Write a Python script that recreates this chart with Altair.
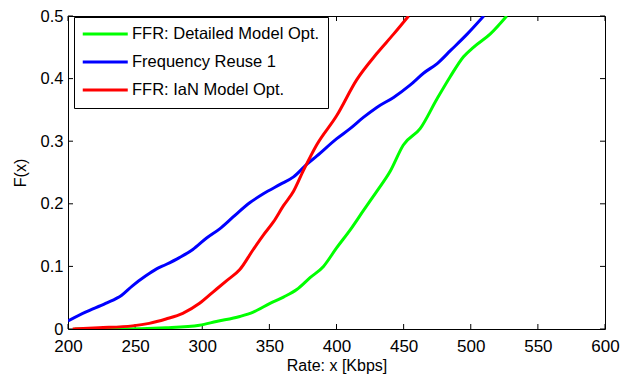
import altair as alt
import pandas as pd

# ---- data ----
blue_x = [200, 213, 228, 240, 248, 258, 266, 273, 283, 293, 303, 313, 323, 335.6, 345.5, 358, 368,
          377.8, 385.2, 400.2, 410.1, 420, 430, 442.5, 455, 465, 475, 485, 497.3, 509.7]
blue_y = [0.013, 0.027, 0.041, 0.054, 0.069, 0.085, 0.096, 0.103, 0.114, 0.127, 0.145, 0.160, 0.179,
          0.202, 0.216, 0.231, 0.243, 0.263, 0.276, 0.304, 0.320, 0.338, 0.354, 0.370, 0.390, 0.409,
          0.424, 0.445, 0.471, 0.5]

red_x = [203.5, 223, 248, 260.5, 273, 285.5, 298, 308, 318, 328, 338, 345.5, 353, 360.5, 368, 375.3,
         385.2, 400.2, 415, 430, 442.5, 453.7]
red_y = [0, 0.002, 0.005, 0.009, 0.016, 0.025, 0.041, 0.059, 0.077, 0.095, 0.127, 0.150, 0.171, 0.197,
         0.220, 0.253, 0.294, 0.341, 0.398, 0.44, 0.471, 0.5]

green_x = [205, 236, 273, 298, 310.5, 328, 338, 350.5, 360.5, 370.4, 380.3, 390.3, 400.2, 410.1, 420,
           430, 440, 449.8, 462.3, 474.7, 484.7, 494.6, 502, 514.4, 526.8]
green_y = [0, 0, 0.002, 0.006, 0.012, 0.020, 0.027, 0.041, 0.051, 0.063, 0.082, 0.10, 0.13, 0.158, 0.189,
           0.22, 0.252, 0.294, 0.32, 0.367, 0.403, 0.435, 0.45, 0.471, 0.5]

series_names = ["FFR: Detailed Model Opt.", "Frequency Reuse 1", "FFR: IaN Model Opt."]
series_colors = ["#00ff00", "#0000ff", "#ff0000"]

x_ticks = [200, 250, 300, 350, 400, 450, 500, 550, 600]
y_ticks = [0, 0.1, 0.2, 0.3, 0.4, 0.5]

rows = []
for name, xs, ys in [(series_names[0], green_x, green_y),
                     (series_names[1], blue_x, blue_y),
                     (series_names[2], red_x, red_y)]:
    for i, (a, b) in enumerate(zip(xs, ys)):
        rows.append({"series": name, "x": a, "y": b, "order": i})
df = pd.DataFrame(rows)
df_xt = pd.DataFrame({"v": x_ticks})
df_yt = pd.DataFrame({"v": y_ticks})

W, H = 537, 313
FONT = "Liberation Sans"
LEG_FS = 16.5

xscale = alt.Scale(domain=[200, 600], nice=False, zero=False)
yscale = alt.Scale(domain=[0, 0.5], nice=False)

lines = alt.Chart(df).mark_line(strokeWidth=3, clip=True, interpolate="monotone").encode(
    x=alt.X("x:Q", scale=xscale,
            axis=alt.Axis(values=x_ticks, title="Rate: x [Kbps]", format="d", labelFlush=False)),
    y=alt.Y("y:Q", scale=yscale,
            axis=alt.Axis(values=y_ticks, title="F(x)", format=".1~f", labelFlush=False)),
    color=alt.Color("series:N",
                    scale=alt.Scale(domain=series_names, range=series_colors),
                    sort=series_names,
                    legend=alt.Legend(orient="none", legendX=6, legendY=1, title=None,
                                      symbolType="M-5,0L5,0", symbolSize=81,
                                      symbolStrokeWidth=3, symbolOffset=14.25,
                                      symbolFillColor="transparent",
                                      labelFontSize=LEG_FS, labelFont=FONT,
                                      labelColor="black", padding=8.75, rowPadding=11,
                                      labelOffset=18.5, strokeColor="black", fillColor="white",
                                      cornerRadius=0, labelLimit=400)),
    order="order:Q",
)

tick_len = 5
xt_bot = alt.Chart(df_xt).mark_rule(color="black", strokeWidth=1).encode(
    x=alt.X("v:Q", scale=xscale), y=alt.value(H), y2=alt.value(H - tick_len))
xt_top = alt.Chart(df_xt).mark_rule(color="black", strokeWidth=1).encode(
    x=alt.X("v:Q", scale=xscale), y=alt.value(0), y2=alt.value(tick_len))
yt_left = alt.Chart(df_yt).mark_rule(color="black", strokeWidth=1).encode(
    y=alt.Y("v:Q", scale=yscale), x=alt.value(0), x2=alt.value(tick_len))
yt_right = alt.Chart(df_yt).mark_rule(color="black", strokeWidth=1).encode(
    y=alt.Y("v:Q", scale=yscale), x=alt.value(W), x2=alt.value(W - tick_len))

chart = alt.layer(xt_bot, xt_top, yt_left, yt_right, lines).properties(
    width=W, height=H,
    autosize=alt.AutoSizeParams(type="none"),
    padding={"left": 60, "top": 8, "right": 15, "bottom": 45},
    background="white",
).configure_view(
    stroke="black", strokeWidth=1
).configure_axis(
    grid=False, ticks=False, tickSize=0, domain=False,
    labelFont=FONT, labelFontSize=17, labelColor="black",
    titleFont=FONT, titleFontSize=17, titleColor="black", titleFontWeight="normal",
).configure_axisX(
    labelPadding=9, titlePadding=3, titleFontSize=16,
).configure_axisY(
    labelPadding=5, titlePadding=12, titleFontSize=16, labelFontSize=16.5,
)

chart.save("out.html", embed_options={"renderer": "svg", "actions": False})
